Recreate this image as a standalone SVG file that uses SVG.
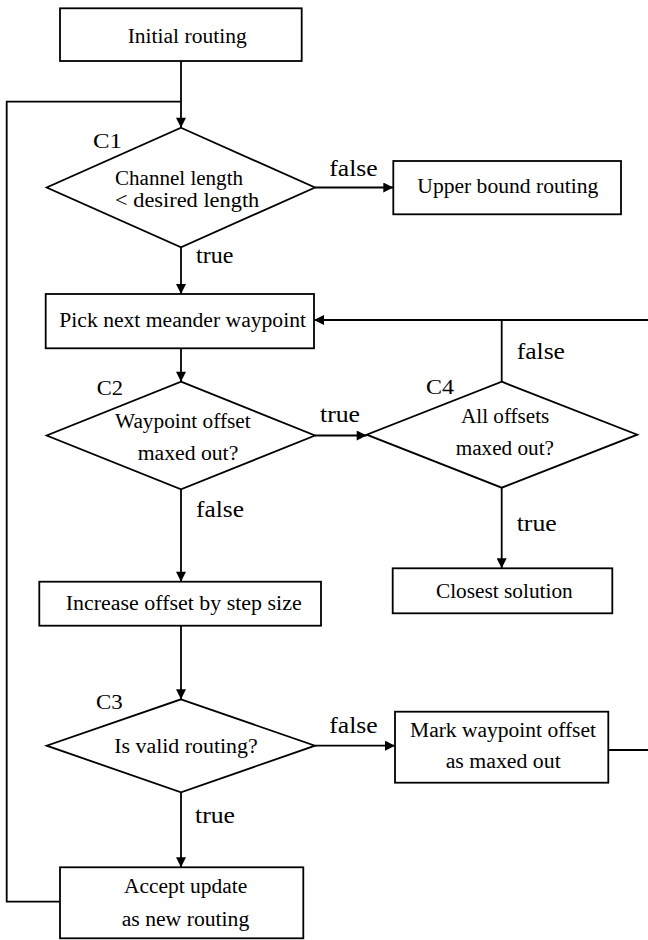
<svg xmlns="http://www.w3.org/2000/svg" width="648" height="940" viewBox="0 0 648 940">
  <defs>
    <marker id="arrow" viewBox="0 0 10 10" refX="10" refY="5" markerWidth="12" markerHeight="10" markerUnits="userSpaceOnUse" orient="auto">
      <path d="M0,0 L10,5 L0,10 z" fill="#000"/>
    </marker>
    <style>
      .box { fill: #fff; stroke: #000; stroke-width: 1.8; }
      .edge { fill: none; stroke: #000; stroke-width: 1.8; }
      .arr { marker-end: url(#arrow); }
      .t { font-size: 20px; }
      .tag { font-size: 21px; }
      .lbl { font-size: 24px; }
    </style>
  </defs>
  <rect width="648" height="940" fill="#fff"/>

  <g font-family="'Liberation Serif', 'DejaVu Serif', serif" fill="#000">
  <!-- connectors -->
  <g id="connectors">
    <path class="edge arr" d="M181,61 V127.7"/>
    <path class="edge" d="M60,901.7 H6.7 V101.7 H181"/>
    <path class="edge arr" d="M315,187.5 H393.3"/>
    <path class="edge arr" d="M181,247.3 V294"/>
    <path class="edge arr" d="M181,348.3 V381.7"/>
    <path class="edge arr" d="M315,435.5 H366.7"/>
    <path class="edge" d="M501.7,381.7 V320"/>
    <path class="edge arr" d="M648,320 H314"/>
    <path class="edge" d="M608.3,750 H648"/>
    <path class="edge arr" d="M181,489.3 V581.7"/>
    <path class="edge arr" d="M181,625.7 V699.3"/>
    <path class="edge arr" d="M315,745.7 H395"/>
    <path class="edge arr" d="M181,792.3 V867.3"/>
    <path class="edge arr" d="M501.7,487.7 V568.3"/>

    <text class="lbl" x="329.3" y="176" textLength="48.4" lengthAdjust="spacingAndGlyphs">false</text>
    <text class="lbl" x="196" y="263.3" textLength="37.3" lengthAdjust="spacingAndGlyphs">true</text>
    <text class="lbl" x="516.7" y="359.3" textLength="48.3" lengthAdjust="spacingAndGlyphs">false</text>
    <text class="lbl" x="320" y="421.7" textLength="40" lengthAdjust="spacingAndGlyphs">true</text>
    <text class="lbl" x="516.7" y="530.7" textLength="40" lengthAdjust="spacingAndGlyphs">true</text>
    <text class="lbl" x="196" y="517.3" textLength="48" lengthAdjust="spacingAndGlyphs">false</text>
    <text class="lbl" x="329.3" y="733.3" textLength="48.4" lengthAdjust="spacingAndGlyphs">false</text>
    <text class="lbl" x="195" y="823.3" textLength="40" lengthAdjust="spacingAndGlyphs">true</text>
  </g>

  <g id="initial-routing">
    <rect class="box" x="60" y="8.3" width="241.7" height="52.7"/>
    <text class="t" x="127.7" y="43" textLength="119" lengthAdjust="spacingAndGlyphs">Initial routing</text>
  </g>

  <g id="c1">
    <polygon class="box" points="181,127.7 315,187.5 181,247.3 46.7,187.5"/>
    <text class="tag" x="93" y="148.3" textLength="29" lengthAdjust="spacingAndGlyphs">C1</text>
    <text class="t" x="115" y="185" textLength="128" lengthAdjust="spacingAndGlyphs">Channel length</text>
    <text class="t" x="115" y="207" textLength="144.3" lengthAdjust="spacingAndGlyphs">&lt; desired length</text>
  </g>

  <g id="upper-bound">
    <rect class="box" x="393.3" y="161" width="227.7" height="53.3"/>
    <text class="t" x="417.3" y="193.3" textLength="181" lengthAdjust="spacingAndGlyphs">Upper bound routing</text>
  </g>

  <g id="pick-waypoint">
    <rect class="box" x="45.7" y="294" width="268.3" height="54.3"/>
    <text class="t" x="59.3" y="326.7" textLength="246.7" lengthAdjust="spacingAndGlyphs">Pick next meander waypoint</text>
  </g>

  <g id="c2">
    <polygon class="box" points="181,381.7 315,435.5 181,489.3 46.7,435.5"/>
    <text class="tag" x="96.7" y="395" textLength="26.3" lengthAdjust="spacingAndGlyphs">C2</text>
    <text class="t" x="115" y="428.3" textLength="135.7" lengthAdjust="spacingAndGlyphs">Waypoint offset</text>
    <text class="t" x="137.7" y="460" textLength="100.6" lengthAdjust="spacingAndGlyphs">maxed out?</text>
  </g>

  <g id="c4">
    <polygon class="box" points="501.7,381.7 637.3,434.7 501.7,487.7 366.7,434.7"/>
    <text class="tag" x="426" y="394.3" textLength="28" lengthAdjust="spacingAndGlyphs">C4</text>
    <text class="t" x="461" y="423.3" textLength="88.3" lengthAdjust="spacingAndGlyphs">All offsets</text>
    <text class="t" x="455.7" y="455" textLength="98.3" lengthAdjust="spacingAndGlyphs">maxed out?</text>
  </g>

  <g id="closest-solution">
    <rect class="box" x="392.7" y="568.3" width="219.6" height="45"/>
    <text class="t" x="436" y="598.3" textLength="136.7" lengthAdjust="spacingAndGlyphs">Closest solution</text>
  </g>

  <g id="increase-offset">
    <rect class="box" x="39.3" y="581.7" width="281.7" height="44"/>
    <text class="t" x="65.7" y="610" textLength="236" lengthAdjust="spacingAndGlyphs">Increase offset by step size</text>
  </g>

  <g id="c3">
    <polygon class="box" points="181,699.3 315,745.7 181,792.3 46.7,745.7"/>
    <text class="tag" x="96" y="709" textLength="26.7" lengthAdjust="spacingAndGlyphs">C3</text>
    <text class="t" x="114.3" y="753.3" textLength="143.4" lengthAdjust="spacingAndGlyphs">Is valid routing?</text>
  </g>

  <g id="mark-maxed">
    <rect class="box" x="395" y="711.7" width="213.3" height="71"/>
    <text class="t" x="410" y="736.7" textLength="186" lengthAdjust="spacingAndGlyphs">Mark waypoint offset</text>
    <text class="t" x="445.7" y="768.3" textLength="115" lengthAdjust="spacingAndGlyphs">as maxed out</text>
  </g>

  <g id="accept-update">
    <rect class="box" x="60" y="867.3" width="243.3" height="71"/>
    <text class="t" x="124" y="893.3" textLength="123.3" lengthAdjust="spacingAndGlyphs">Accept update</text>
    <text class="t" x="121.7" y="926" textLength="127.6" lengthAdjust="spacingAndGlyphs">as new routing</text>
  </g>
  </g>
</svg>
